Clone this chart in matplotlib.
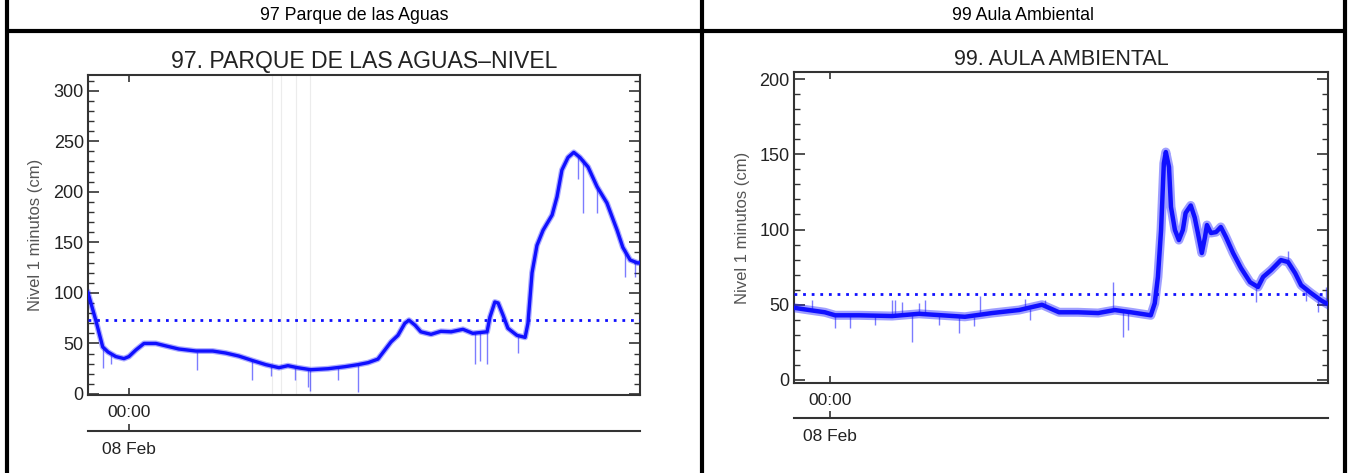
import matplotlib
matplotlib.use("Agg")
import matplotlib.pyplot as plt
from matplotlib.lines import Line2D

plt.rcParams['font.family'] = ['Liberation Sans', 'DejaVu Sans']

# ---------------- data (hours relative to 00:00 08 Feb, level in cm) -------------
header_titles = ["97 Parque de las Aguas", "99 Aula Ambiental"]
chart_titles = ["97. PARQUE DE LAS AGUAS\u2013NIVEL", "99. AULA AMBIENTAL"]
ylabel_text = "Nivel 1 minutos (cm)"
tick_time_label = "00:00"
tick_date_label = "08 Feb"

t97 = [-1.00, -0.81, -0.64, -0.51, -0.32, -0.12, 0.00, 0.17, 0.37, 0.66, 0.91, 1.22,
       1.64, 2.05, 2.37, 2.69, 3.03, 3.35, 3.67, 3.89, 4.13, 4.45, 4.87, 5.28, 5.60,
       5.85, 6.09, 6.26, 6.41, 6.58, 6.75, 6.85, 7.00, 7.14, 7.39, 7.63, 7.88, 8.17,
       8.41, 8.76, 8.83, 8.95, 9.03, 9.15, 9.27, 9.49, 9.69, 9.76, 9.86, 9.98, 10.13,
       10.35, 10.47, 10.59, 10.74, 10.88, 11.03, 11.23, 11.45, 11.69, 11.94, 12.08,
       12.26, 12.45, 12.50]
v97 = [100, 73, 46.5, 41.5, 37, 35, 37, 43.5, 50, 50, 47.5, 44.5,
       42.5, 42.5, 40.5, 37.5, 33, 29, 26, 28, 26, 24, 25, 27, 29,
       31, 34.5, 43.5, 51.5, 58, 70, 73, 68, 61.5, 59, 62, 61.5, 64,
       60, 61.5, 76, 91, 90, 78, 65, 58, 56, 70, 120, 147, 162,
       177, 195, 221.5, 234, 239, 234, 224.5, 205, 189, 162, 145,
       132.5, 129.5, 130]
spike97_t = [-0.64, -0.44, 1.66, 3.01, 3.47, 4.06, 4.38, 4.43, 5.11, 5.60, 8.46, 8.59,
             8.76, 9.52, 10.98, 11.10, 11.45, 12.13, 12.38]
spike97_top = [46, 39, 42, 33, 28, 26, 25, 24, 26, 29, 61, 61, 61, 58, 235, 232, 205, 143, 131]
spike97_low = [26, 30, 24, 14, 18, 14, 7, 3, 14, 2, 30, 33, 30, 41, 213, 179, 179, 116, 116]
ref97 = 73
gray_lines97 = [3.50, 3.72, 4.08, 4.43]

t99 = [-0.91, -0.53, -0.13, 0.13, 0.73, 1.57, 2.25, 2.83, 3.41, 4.10, 4.78, 5.36, 5.79,
       6.27, 6.78, 7.20, 7.61, 8.11, 8.21, 8.29, 8.37, 8.44, 8.49, 8.57, 8.62, 8.72,
       8.82, 8.92, 8.99, 9.12, 9.22, 9.30, 9.40, 9.48, 9.53, 9.63, 9.76, 9.88, 10.01,
       10.19, 10.39, 10.62, 10.82, 10.95, 11.15, 11.40, 11.58, 11.76, 11.91, 12.16,
       12.41, 12.54]
v99 = [48, 46.5, 45, 43, 43, 42.5, 44, 43, 42, 44.5, 46.5, 50, 45,
       45, 44.5, 46.5, 45, 43, 51, 68.5, 99.7, 144, 151.5, 141.5, 115, 99.7,
       93, 99.7, 111, 116, 108, 97.7, 84.4, 95, 103, 97.7, 98.3, 101.7, 95,
       84.4, 74.4, 65, 61.8, 68.5, 73, 79.7, 78.4, 71, 63, 57.8,
       53, 51]
spike99_t = [-0.46, 0.13, 0.51, 1.14, 1.57, 1.64, 1.82, 2.07, 2.25, 2.40, 2.76, 3.26,
             3.64, 3.80, 4.93, 5.06, 5.44, 7.15, 7.41, 7.54, 10.77, 11.58, 12.03,
             12.33, 12.54]
spike99_top = [53, 43, 44, 43, 53, 53, 52, 43, 51.5, 53, 43, 42,
               42, 56, 54, 47, 53, 65, 45, 45, 62, 86, 60,
               54, 62]
spike99_low = [46, 34.5, 34.5, 36.7, 42.5, 43, 43, 25, 44, 44, 36.7, 31,
               35.7, 44, 46.5, 40, 49, 46, 28.6, 33, 52, 78, 52.7,
               45, 51]
ref99 = 57

xlims = [(-1.0, 12.5), (-0.91, 12.59)]
ylims = [(-1, 315.5), (-2, 204.7)]
yticks = [[0, 50, 100, 150, 200, 250, 300], [0, 50, 100, 150, 200]]

# ---------------- figure ----------------
W, H = 1353, 473
fig = plt.figure(figsize=(W / 100, H / 100), dpi=100)
fig.patch.set_facecolor('white')

def fx(px):
    return px / W

def fy(py):
    return 1 - py / H

# table borders
border_kw = dict(color='black', lw=3.0, transform=fig.transFigure, solid_capstyle='butt')
fig.add_artist(Line2D([fx(6.5), fx(6.5)], [fy(0), fy(473)], **border_kw))
fig.add_artist(Line2D([fx(702), fx(702)], [fy(0), fy(473)], **border_kw))
fig.add_artist(Line2D([fx(1345), fx(1345)], [fy(0), fy(473)], **border_kw))
fig.add_artist(Line2D([fx(5), fx(1347)], [fy(31.3), fy(31.3)], **border_kw))

fig.text(fx(354), fy(16), header_titles[0], ha='center', va='center', fontsize=12.8, color='black')
fig.text(fx(1023), fy(16), header_titles[1], ha='center', va='center', fontsize=12.8, color='black')

axes_px = [(88, 75, 640, 395), (794, 72, 1328, 383)]
series = [(t97, v97, spike97_t, spike97_top, spike97_low, ref97),
          (t99, v99, spike99_t, spike99_top, spike99_low, ref99)]
ylabel_x = [36, 743]
title_sizes = [16.6, 15.5]

blue = '#1010ff'
frame_col = '#333333'
text_col = '#222222'

for i, (l, t, r, b) in enumerate(axes_px):
    ax = fig.add_axes([fx(l), fy(b), fx(r) - fx(l), fy(t) - fy(b)])
    tt, vv, st, stop, slow, ref = series[i]
    if i == 0:
        for g in gray_lines97:
            ax.axvline(g, color='#ececec', lw=0.8, zorder=1)
        ax.vlines(st, slow, stop, color=blue, lw=1.0, alpha=0.55, zorder=2)
        ax.plot(tt, vv, color=blue, lw=4.2, alpha=0.35, zorder=3)
        ax.plot(tt, vv, color=blue, lw=2.4, zorder=4)
    else:
        ax.vlines(st, slow, stop, color=blue, lw=1.0, alpha=0.55, zorder=2)
        ax.plot(tt, vv, color=blue, lw=6.5, alpha=0.40, zorder=3)
        ax.plot(tt, vv, color=blue, lw=3.2, zorder=4)
    ax.axhline(ref, color=blue, lw=2.0, ls=(0, (1, 2.1)), zorder=5)

    ax.set_xlim(*xlims[i])
    ax.set_ylim(*ylims[i])
    ax.set_yticks(yticks[i])
    ax.set_yticks(range(0, int(ylims[i][1]) + 1, 10), minor=True)
    ax.set_xticks([0])
    ax.set_xticklabels([tick_time_label])
    for s in ax.spines.values():
        s.set_color(frame_col)
        s.set_linewidth(1.5)
    ax.tick_params(axis='both', which='major', direction='in', length=8, width=1.2,
                   color=frame_col, labelcolor=text_col,
                   top=True, right=True, pad=3)
    ax.tick_params(axis='y', which='major', labelsize=13)
    ax.tick_params(axis='y', which='minor', direction='in', length=4.5, width=1.0,
                   color=frame_col, right=True)
    ax.tick_params(axis='x', which='major', length=5, pad=7, labelsize=12.5)
    ax.set_title(chart_titles[i], fontsize=title_sizes[i], color=text_col, pad=5)
    ax.set_ylabel(ylabel_text, fontsize=12, color='#555555')
    ax.yaxis.set_label_coords(fx(ylabel_x[i]), fy((t + b) / 2), transform=fig.transFigure)
    ax.yaxis.label.set_verticalalignment('center')

    sec = ax.secondary_xaxis(-0.1125)
    sec.set_xticks([0])
    sec.set_xticklabels([tick_date_label])
    sec.spines['bottom'].set_color(frame_col)
    sec.spines['bottom'].set_linewidth(1.5)
    sec.tick_params(direction='in', length=5, width=1.2, color=frame_col,
                    labelsize=12.5, labelcolor=text_col, pad=8)

fig.savefig('out.png', dpi=100, facecolor='white')
